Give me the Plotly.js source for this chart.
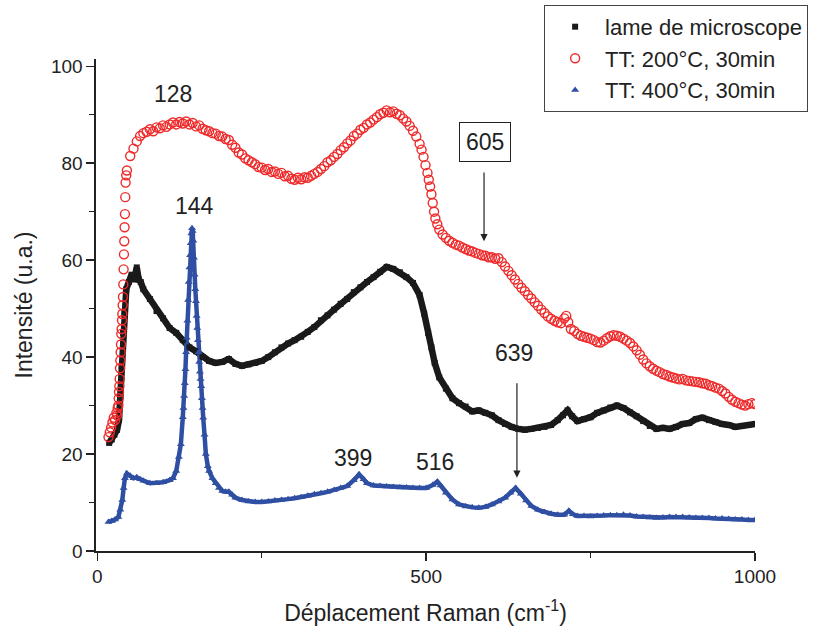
<!DOCTYPE html>
<html>
<head>
<meta charset="utf-8">
<script src="https://cdn.plot.ly/plotly-3.0.1.min.js"></script>
<style>html,body{margin:0;padding:0;background:#fff;}#chart{width:821px;height:633px;}</style>
</head>
<body>
<div id="chart"></div>
<script>
// Lame de microscope (black squares)
const blackX = [18,22,26,30,33,35,37,39,41,44,48,52,56,60,63,66,70,80,90,100,110,120,130,140,150,160,170,180,190,200,210,220,230,240,250,260,270,280,290,300,310,320,330,340,350,360,370,380,390,400,410,420,430,440,450,460,470,480,490,497,503,508,513,520,530,540,550,560,570,580,590,600,610,620,630,640,650,660,670,680,690,700,708,715,722,730,740,750,760,770,780,790,800,810,820,830,840,850,860,870,880,890,900,910,920,930,940,950,960,970,980,990,1000];
const blackY = [22.3,23,24,25,27,32,38,45,49,54,55.5,57,56,58.5,56,55.5,54,52,49.5,48,46,45,43.5,42,41.2,40,39.2,38.8,39,39.6,38.6,38.2,38.5,38.8,39.2,40,41,42,42.8,43.5,44.2,45.2,46.2,47.6,48.6,49.8,51,52,53.4,54.4,55.5,56.5,57.6,58.6,58.2,57.5,56.5,55.3,52.8,49,45,42,38.8,35.8,33.5,31.5,30.5,29.8,28.8,29,28.5,28,27,26.2,25.6,25.2,25,25.2,25.4,25.6,26,27,28,29,27.8,26.8,27.2,27.6,28.5,29,29.6,30,29.5,28.6,27.8,26.8,25.8,25.2,25.4,25.2,25.6,26.2,26.4,27.2,27.5,27,26.6,26.2,26,25.6,25.8,26,26.2];

// TT: 200°C, 30min (red open circles)
const redX = [17,19,21,23,25,27,29,30,31,32,32.5,33,33.5,34,34.5,35,35.5,36,36.5,37,37.5,38,38.5,39,39.5,40,40.5,41,41.5,42,42.5,43,44,
  45,50,55,60,65,70,75,80,85,90,95,100,105,110,115,120,125,130,135,140,145,150,155,160,165,170,175,180,185,190,195,200,205,210,215,220,225,230,235,240,245,250,255,260,265,270,275,280,285,290,295,300,305,310,315,320,325,330,335,340,345,350,355,360,365,370,375,380,385,390,395,400,405,410,415,420,425,430,435,440,445,450,455,460,465,470,475,480,485,490,493,496,499,502,504,506,508,510,512,514,517,520,525,530,535,540,545,550,555,560,565,570,575,580,585,590,595,600,605,610,615,620,625,630,635,640,645,650,655,660,665,670,675,680,685,690,695,700,705,710,713,716,720,725,730,735,740,745,750,755,760,765,770,775,780,785,790,795,800,805,810,815,820,825,830,835,840,845,850,855,860,865,870,875,880,885,890,895,900,905,910,915,920,925,930,935,940,945,950,955,960,965,970,975,980,985,990,995,1000];
const redY = [23.5,24.5,25.5,26.5,27.5,27,28.5,28,29.5,30,31.5,32.8,34,35.5,37.7,39.3,41,42.6,44.8,45.8,47.6,48.9,50.7,52.4,55,58.1,61.2,63.9,66.8,69.5,73,76,77.5,
  78.5,81.5,83,84.5,85.6,86.2,86.5,87,86.6,87.4,87.2,87.8,87.5,88,88.4,88,88.5,88.2,88.6,88,88.3,87.6,87.8,87.1,86.8,86.6,86.2,86.1,85.6,85.5,85,84.8,83.8,83.2,82.2,81.8,81,80.6,80.2,79.8,79.2,79.1,78.6,78.8,78.2,78.3,77.8,78,77.3,77.4,76.8,76.6,77,76.7,77.1,77,77.4,77.8,78.2,78.8,79.4,80.2,80.6,81.3,81.9,82.7,83.3,84.1,84.7,85.6,86.1,86.9,87.3,88,88.4,89,89.5,90.1,90.4,90.9,90.5,90.7,90.2,89.9,89.2,88.6,87.7,86.7,85.5,84,82.8,81.3,79.6,78,76.6,75.2,73.6,71.8,70,68.6,67.4,66.3,65.3,64.6,64,63.6,63.2,63,62.6,62.3,62,61.8,61.5,61.3,61,60.9,60.6,60.6,60.3,60.4,59.6,58.7,57.8,56.9,56,55.1,54.3,53.6,52.8,52.1,51.3,50.6,49.8,49.1,48.4,47.9,47.5,47.2,47,48,48.5,47.2,45.8,45.4,44.8,44.4,44.2,44,43.8,43.5,43.1,43,43.4,43.9,44.3,44.5,44.4,44.2,43.8,43.4,42.9,42.2,41.4,40.5,39.5,38.7,38.1,37.6,37.2,36.9,36.5,36.3,36,35.8,35.6,35.4,35.5,35.2,35.1,35,34.9,34.8,34.6,34.5,34.2,34,33.7,33.5,33,32.5,31.8,31.2,30.8,30.5,30.2,30,30.3,30.5,30.3];

// TT: 400°C, 30min (blue triangles)
const blueX = [17,22,27,32,35,38,40,42,45,50,55,60,65,70,80,90,100,110,115,120,124,127,130,131,132,133,134,135,136,137,138,139,140,141,142,143,144,145,146,147,148,149,150,151,152,153,154,155,156,157,158,159,160,161,163,165,168,170,175,180,185,190,195,200,205,210,220,230,240,250,260,270,280,290,300,310,320,330,340,350,360,370,380,390,398,405,410,420,430,440,450,460,470,480,490,500,510,517,522,530,540,550,560,570,580,590,600,610,620,628,636,644,652,660,670,680,690,700,710,717,723,730,740,750,760,770,780,790,800,810,820,830,840,850,860,870,880,890,900,910,920,930,940,950,960,970,980,990,1000];
const blueY = [6,6.2,6.5,7,8.5,10.5,13,15,16,15.5,15,15.2,14.8,14.5,14,14,14.2,14.6,15,16.5,19.4,22,27.6,29.5,32,34.6,37.5,41,44,47.5,51.8,55.5,58.5,61,63.5,65.5,66.6,66,64,60.5,57,54,51.5,48.5,46,43.5,41,39,37,35.5,34,31.5,29.5,27.5,24,20,17.5,16.5,15,14,13,12.4,12.2,12.2,11.6,11,10.5,10.2,10.1,10.1,10.2,10.4,10.5,10.7,10.9,11.1,11.4,11.7,11.9,12.2,12.6,13,13.4,14.6,15.8,14.8,14,13.5,13.4,13.3,13.2,13.1,13.1,13,13,13,13.6,14.3,13.5,12,10.6,9.6,9.2,9,8.9,9.1,9.6,10.2,11,12,13,11.8,10.4,9.3,8.5,8,7.7,7.5,7.5,8.3,7.6,7.2,7.2,7.1,7.2,7.3,7.4,7.4,7.5,7.3,7.1,7,6.9,6.8,6.9,7,7,7,6.9,6.8,6.8,6.8,6.7,6.7,6.6,6.5,6.5,6.4,6.4];

const seriesNames = ['lame de microscope', 'TT: 200°C, 30min', 'TT: 400°C, 30min'];
const peakLabels = ['128', '144', '399', '516', '639', '605'];
const peakPos = [[115, 94.3], [147, 71.2], [389, 19.2], [513, 18.4], [634, 40.8], [590, 84.4]];

const FONT = 'Liberation Sans, Arial, Helvetica, sans-serif';
const BLACK = '#1a1a1a', RED = '#ee2a2a', BLUE = '#2f4fa3';

const traces = [
  {x: blackX, y: blackY, mode: 'lines', line: {color: BLACK, width: 6.5}, showlegend: false, hoverinfo: 'skip'},
  {x: blueX, y: blueY, mode: 'lines', line: {color: BLUE, width: 4.5}, showlegend: false, hoverinfo: 'skip'},
  {x: blackX, y: blackY, mode: 'markers', name: seriesNames[0],
   marker: {symbol: 'square', size: 6, color: BLACK}},
  {x: redX, y: redY, mode: 'markers', name: seriesNames[1],
   marker: {symbol: 'circle-open', size: 9, color: RED, line: {width: 1.4, color: RED}}},
  {x: blueX, y: blueY, mode: 'markers', name: seriesNames[2],
   marker: {symbol: 'triangle-up', size: 7, color: BLUE}}
];

const annotations = peakLabels.map((t, i) => {
  const a = {x: peakPos[i][0], y: peakPos[i][1], xref: 'x', yref: 'y', text: t, showarrow: false,
    font: {family: FONT, size: 23, color: '#222'}};
  if (t === '605') { a.bordercolor = '#222'; a.borderwidth = 1; a.borderpad = 6; }
  return a;
});
// arrows
annotations.push({x: 588, y: 63.9, ax: 588, ay: 78.4, axref: 'x', ayref: 'y', xref: 'x', yref: 'y',
  text: '', showarrow: true, arrowhead: 2, arrowsize: 1.2, arrowwidth: 1.2, arrowcolor: '#222'});
annotations.push({x: 638, y: 15.1, ax: 638, ay: 34.9, axref: 'x', ayref: 'y', xref: 'x', yref: 'y',
  text: '', showarrow: true, arrowhead: 2, arrowsize: 1.2, arrowwidth: 1.2, arrowcolor: '#222'});

const layout = {
  width: 821, height: 633,
  margin: {l: 96, r: 66, t: 59, b: 82, autoexpand: false},
  paper_bgcolor: '#fff', plot_bgcolor: '#fff',
  font: {family: FONT, color: '#222', size: 19},
  showlegend: true,
  legend: {x: 0.68, y: 1.11, xanchor: 'left', yanchor: 'top', bgcolor: '#fff',
    bordercolor: '#444', borderwidth: 1, font: {family: FONT, size: 22, color: '#222'},
    itemwidth: 50, tracegroupgap: 0},
  xaxis: {range: [-2, 1000], showline: true, linecolor: '#222', linewidth: 1.6, mirror: false,
    showgrid: false, zeroline: false, ticks: 'outside', ticklen: 8, tickwidth: 1.5, tickcolor: '#222',
    tick0: 0, dtick: 500, minor: {ticks: 'outside', dtick: 250, ticklen: 5, tickwidth: 1.5, tickcolor: '#222'},
    tickfont: {family: FONT, size: 19, color: '#222'},
    title: {text: 'Déplacement Raman (cm<sup>-1</sup>)', font: {family: FONT, size: 23, color: '#222'}, standoff: 18}},
  yaxis: {range: [0, 101.5], showline: true, linecolor: '#222', linewidth: 1.6, mirror: false,
    showgrid: false, zeroline: false, ticks: 'outside', ticklen: 8, tickwidth: 1.5, tickcolor: '#222',
    tick0: 0, dtick: 20, minor: {ticks: 'outside', dtick: 10, ticklen: 5, tickwidth: 1.5, tickcolor: '#222'},
    tickfont: {family: FONT, size: 19, color: '#222'},
    title: {text: 'Intensité (u.a.)', font: {family: FONT, size: 23, color: '#222'}, standoff: 12}},
  annotations: annotations
};

Plotly.newPlot('chart', traces, layout, {displayModeBar: false, staticPlot: true});
</script>
</body>
</html>
